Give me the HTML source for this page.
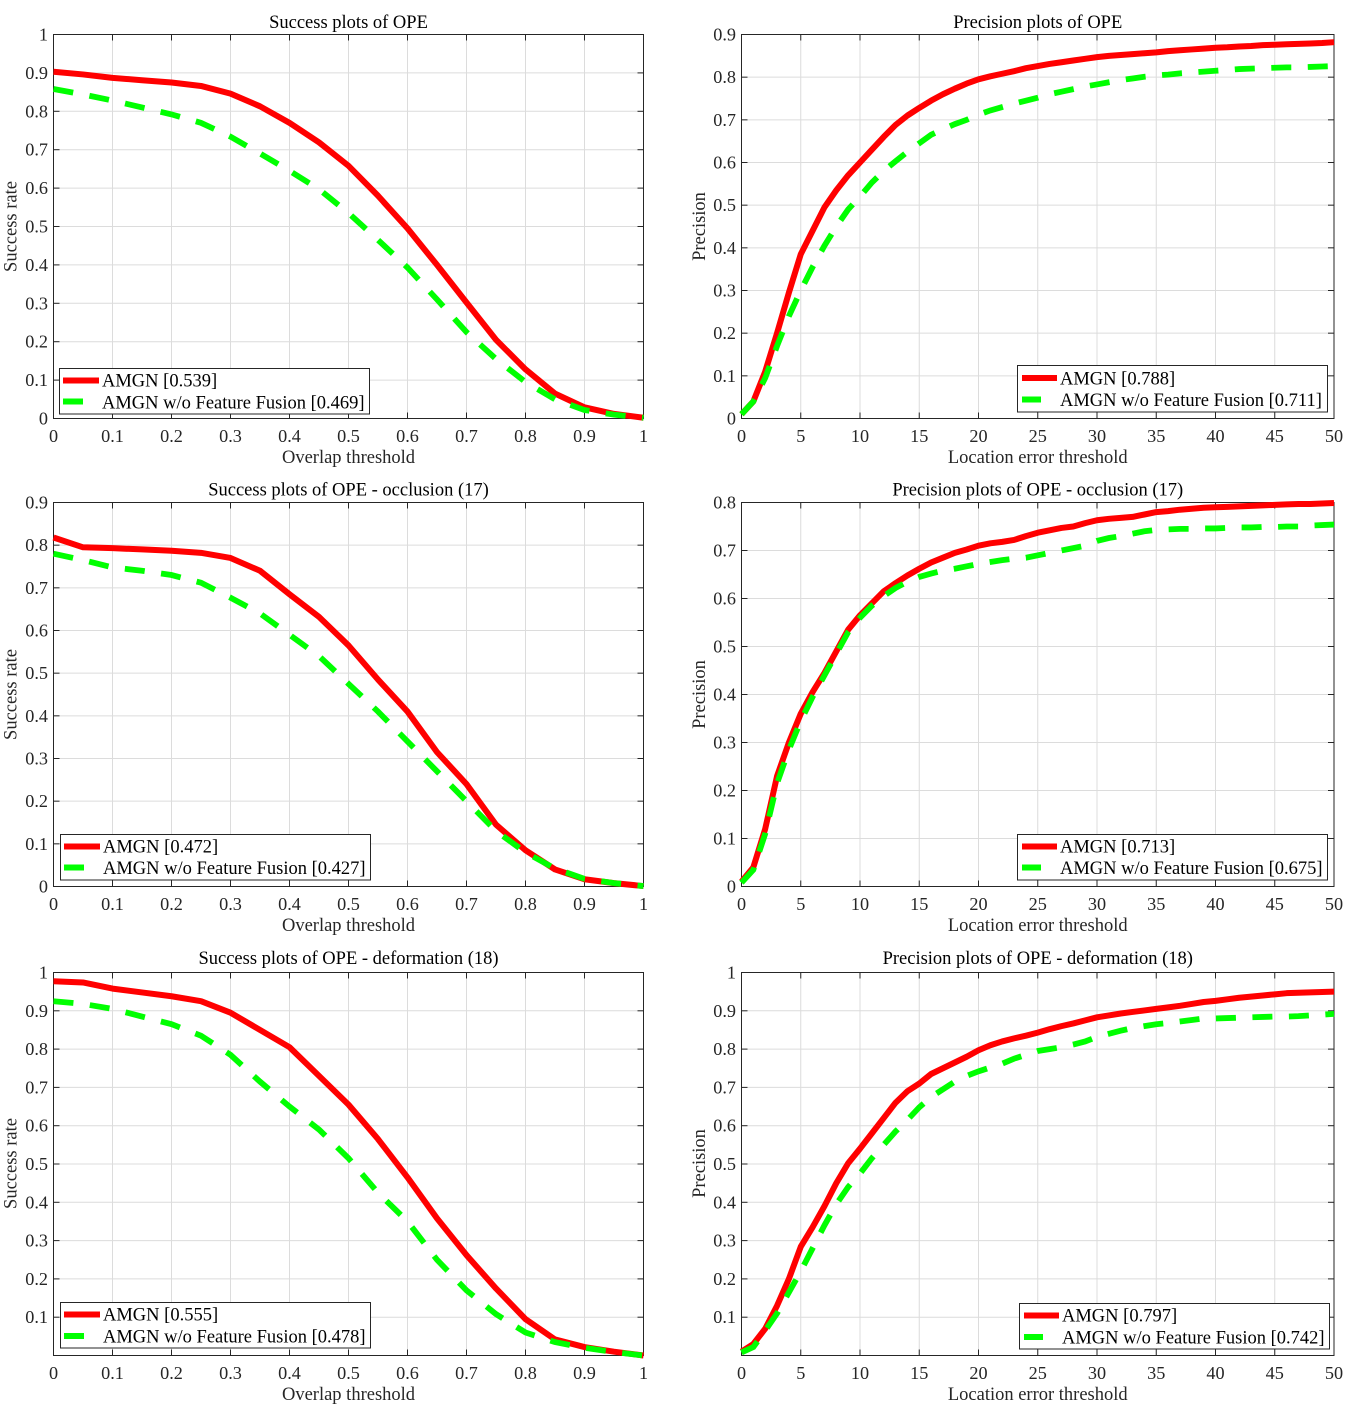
<!DOCTYPE html>
<html lang="en">
<head>
<meta charset="utf-8">
<title>Success and precision plots of OPE</title>
<style>
html,body{margin:0;padding:0;background:#fff;}
svg{display:block;}
text{font-family:"Liberation Serif",serif;font-size:18.5px;fill:#000;}
.tick-label{fill:#262626;font-size:18.2px;}
.axis-label{fill:#262626;text-anchor:middle;}
.plot-title{text-anchor:middle;}
.legend-text{fill:#000;}
</style>
</head>
<body>
<svg id="figure" xmlns="http://www.w3.org/2000/svg" width="1355" height="1411" viewBox="0 0 1355 1411">
  <rect width="1355" height="1411" fill="#fff"/>

  <g id="panel-0">
    <g class="plot-layer"></g>
    <text class="plot-title" x="348.5" y="28">Success plots of OPE</text>
    <text class="axis-label" x="348.5" y="463">Overlap threshold</text>
    <text class="axis-label" transform="translate(16.5 226.5) rotate(-90)">Success rate</text>
    <g>
      <rect x="59.5" y="368.5" width="310" height="45.5" fill="#fff" stroke="#262626"/>
      <line x1="63" x2="99" y1="380.5" y2="380.5" stroke="#f00" stroke-width="6"/>
      <line x1="63" x2="83" y1="401.5" y2="401.5" stroke="#0f0" stroke-width="6"/>
      <text class="legend-text" x="102" y="386.5">AMGN [0.539]</text>
      <text class="legend-text" x="102" y="408.5">AMGN w/o Feature Fusion [0.469]</text>
    </g>
  </g>

  <g id="panel-1">
    <g class="plot-layer"></g>
    <text class="plot-title" x="1037.75" y="28">Precision plots of OPE</text>
    <text class="axis-label" x="1037.75" y="463">Location error threshold</text>
    <text class="axis-label" transform="translate(705 226.5) rotate(-90)">Precision</text>
    <g>
      <rect x="1017.5" y="365.5" width="310" height="46.5" fill="#fff" stroke="#262626"/>
      <line x1="1022" x2="1057" y1="378" y2="378" stroke="#f00" stroke-width="6"/>
      <line x1="1022" x2="1041" y1="399.5" y2="399.5" stroke="#0f0" stroke-width="6"/>
      <text class="legend-text" x="1060" y="384.5">AMGN [0.788]</text>
      <text class="legend-text" x="1060" y="406">AMGN w/o Feature Fusion [0.711]</text>
    </g>
  </g>

  <g id="panel-2">
    <g class="plot-layer"></g>
    <text class="plot-title" x="348.5" y="495.5">Success plots of OPE - occlusion (17)</text>
    <text class="axis-label" x="348.5" y="931">Overlap threshold</text>
    <text class="axis-label" transform="translate(16.5 694.5) rotate(-90)">Success rate</text>
    <g>
      <rect x="60.5" y="834.5" width="310" height="45.5" fill="#fff" stroke="#262626"/>
      <line x1="64" x2="100" y1="846.5" y2="846.5" stroke="#f00" stroke-width="6"/>
      <line x1="64" x2="84" y1="867.5" y2="867.5" stroke="#0f0" stroke-width="6"/>
      <text class="legend-text" x="103" y="852.5">AMGN [0.472]</text>
      <text class="legend-text" x="103" y="874">AMGN w/o Feature Fusion [0.427]</text>
    </g>
  </g>

  <g id="panel-3">
    <g class="plot-layer"></g>
    <text class="plot-title" x="1037.75" y="495.5">Precision plots of OPE - occlusion (17)</text>
    <text class="axis-label" x="1037.75" y="931">Location error threshold</text>
    <text class="axis-label" transform="translate(705 694.5) rotate(-90)">Precision</text>
    <g>
      <rect x="1017.5" y="834.5" width="310" height="45.5" fill="#fff" stroke="#262626"/>
      <line x1="1022" x2="1057" y1="846.5" y2="846.5" stroke="#f00" stroke-width="6"/>
      <line x1="1022" x2="1041" y1="867.5" y2="867.5" stroke="#0f0" stroke-width="6"/>
      <text class="legend-text" x="1060" y="852.5">AMGN [0.713]</text>
      <text class="legend-text" x="1060" y="874">AMGN w/o Feature Fusion [0.675]</text>
    </g>
  </g>

  <g id="panel-4">
    <g class="plot-layer"></g>
    <text class="plot-title" x="348.5" y="964">Success plots of OPE - deformation (18)</text>
    <text class="axis-label" x="348.5" y="1400">Overlap threshold</text>
    <text class="axis-label" transform="translate(16.5 1163.5) rotate(-90)">Success rate</text>
    <g>
      <rect x="60.5" y="1302.5" width="310" height="45.5" fill="#fff" stroke="#262626"/>
      <line x1="64" x2="100" y1="1314.5" y2="1314.5" stroke="#f00" stroke-width="6"/>
      <line x1="64" x2="84" y1="1336" y2="1336" stroke="#0f0" stroke-width="6"/>
      <text class="legend-text" x="103" y="1320.5">AMGN [0.555]</text>
      <text class="legend-text" x="103" y="1342.5">AMGN w/o Feature Fusion [0.478]</text>
    </g>
  </g>

  <g id="panel-5">
    <g class="plot-layer"></g>
    <text class="plot-title" x="1037.75" y="964">Precision plots of OPE - deformation (18)</text>
    <text class="axis-label" x="1037.75" y="1400">Location error threshold</text>
    <text class="axis-label" transform="translate(705 1163.5) rotate(-90)">Precision</text>
    <g>
      <rect x="1019.5" y="1303.5" width="310" height="45.5" fill="#fff" stroke="#262626"/>
      <line x1="1024" x2="1059" y1="1315.5" y2="1315.5" stroke="#f00" stroke-width="6"/>
      <line x1="1024" x2="1043" y1="1337" y2="1337" stroke="#0f0" stroke-width="6"/>
      <text class="legend-text" x="1062" y="1321.5">AMGN [0.797]</text>
      <text class="legend-text" x="1062" y="1343.5">AMGN w/o Feature Fusion [0.742]</text>
    </g>
  </g>
</svg>

<script>
// ---------- thresholds (x categories) ----------
const overlapThresholds = [0,0.05,0.1,0.15,0.2,0.25,0.3,0.35,0.4,0.45,0.5,0.55,0.6,0.65,0.7,0.75,0.8,0.85,0.9,0.95,1];
const errorThresholds = [0,1,2,3,4,5,6,7,8,9,10,11,12,13,14,15,16,17,18,19,20,21,22,23,24,25,26,27,28,29,30,31,32,33,34,35,36,37,38,39,40,41,42,43,44,45,46,47,48,49,50];

// ---------- series values ----------
const successOverallAmgn = [.903,.896,.887,.881,.875,.866,.846,.813,.770,.719,.658,.580,.495,.400,.302,.205,.128,.065,.029,.012,.002];
const successOverallNoFusion = [.858,.844,.828,.810,.792,.770,.734,.690,.645,.597,.535,.465,.393,.310,.225,.155,.095,.050,.022,.010,.002];

const precisionOverallAmgn = [.010,.040,.110,.200,.295,.385,.440,.495,.535,.570,.600,.630,.660,.688,.710,.728,.745,.760,.773,.785,.795,.802,.808,.814,.821,.826,.831,.835,.839,.843,.847,.850,.852,.854,.856,.858,.861,.863,.865,.867,.869,.870,.872,.873,.875,.876,.877,.878,.879,.880,.882];
const precisionOverallNoFusion = [.010,.040,.095,.170,.240,.300,.355,.405,.450,.490,.520,.553,.580,.603,.625,.645,.665,.678,.690,.700,.712,.722,.730,.738,.745,.752,.760,.766,.772,.778,.783,.788,.793,.797,.801,.804,.806,.809,.811,.813,.815,.817,.819,.820,.821,.822,.823,.823,.824,.825,.826];

const successOcclusionAmgn = [.818,.795,.793,.790,.787,.782,.770,.740,.685,.632,.565,.485,.410,.315,.240,.145,.085,.040,.017,.008,.001];
const successOcclusionNoFusion = [.780,.765,.748,.740,.730,.712,.677,.640,.590,.540,.475,.410,.340,.270,.200,.130,.080,.042,.018,.008,.001];

const precisionOcclusionAmgn = [.010,.040,.120,.230,.300,.360,.405,.445,.490,.535,.565,.590,.615,.632,.648,.662,.675,.685,.695,.702,.710,.715,.718,.722,.730,.737,.742,.747,.750,.757,.763,.766,.768,.770,.775,.780,.782,.785,.787,.789,.790,.791,.792,.793,.794,.795,.796,.797,.797,.798,.799];
const precisionOcclusionNoFusion = [.008,.035,.110,.215,.285,.345,.395,.440,.485,.530,.560,.585,.605,.622,.635,.645,.652,.658,.662,.667,.672,.676,.680,.683,.685,.690,.695,.700,.705,.710,.720,.726,.730,.735,.740,.743,.744,.745,.745,.746,.746,.747,.748,.748,.749,.749,.750,.750,.752,.753,.754];

const successDeformationAmgn = [.977,.974,.958,.948,.938,.925,.895,.850,.805,.730,.655,.565,.465,.358,.262,.175,.095,.042,.022,.010,.000];
const successDeformationNoFusion = [.925,.918,.905,.885,.865,.835,.785,.715,.650,.590,.515,.425,.350,.250,.170,.108,.060,.035,.020,.009,.000];

const precisionDeformationAmgn = [.010,.030,.070,.130,.200,.284,.335,.390,.450,.502,.540,.580,.620,.660,.690,.710,.735,.750,.765,.780,.797,.810,.820,.828,.835,.843,.852,.860,.867,.875,.883,.888,.893,.897,.901,.905,.909,.913,.918,.923,.926,.930,.934,.937,.940,.943,.946,.947,.948,.949,.950];
const precisionDeformationNoFusion = [.008,.022,.065,.110,.165,.220,.280,.340,.395,.440,.475,.515,.550,.585,.615,.648,.675,.695,.715,.730,.742,.752,.762,.775,.785,.795,.800,.805,.812,.820,.832,.840,.848,.855,.860,.865,.868,.872,.876,.880,.880,.881,.882,.883,.884,.885,.885,.886,.888,.890,.892];

// ---------- tick labels ----------
const overlapTicks = [0,0.1,0.2,0.3,0.4,0.5,0.6,0.7,0.8,0.9,1];
const errorTicks = [0,5,10,15,20,25,30,35,40,45,50];
const yTicksTo1 = [0,0.1,0.2,0.3,0.4,0.5,0.6,0.7,0.8,0.9,1];
const yTicksTo09 = [0,0.1,0.2,0.3,0.4,0.5,0.6,0.7,0.8,0.9];
const yTicksTo08 = [0,0.1,0.2,0.3,0.4,0.5,0.6,0.7,0.8];
const yTicksTo1NoZero = [0.1,0.2,0.3,0.4,0.5,0.6,0.7,0.8,0.9,1];

const SVG_NS = 'http://www.w3.org/2000/svg';

function make(parent, tag, attrs) {
  const el = document.createElementNS(SVG_NS, tag);
  for (const k in attrs) el.setAttribute(k, attrs[k]);
  parent.appendChild(el);
  return el;
}

function drawPanel(p) {
  const layer = document.querySelector('#panel-' + p.index + ' .plot-layer');
  const sx = v => p.left + (v - p.xMin) / (p.xMax - p.xMin) * (p.right - p.left);
  const sy = v => p.bottom - (v - p.yMin) / (p.yMax - p.yMin) * (p.bottom - p.top);

  // gridlines
  p.xTicks.forEach(t => {
    if (t === p.xMin || t === p.xMax) return;
    const g = make(layer, 'line', {x1: sx(t), x2: sx(t), y1: p.top, y2: p.bottom, stroke: '#dcdcdc', 'stroke-width': 1});
    
    
  });
  p.yTicks.forEach(t => {
    if (t === p.yMin || t === p.yMax) return;
    const g = make(layer, 'line', {x1: p.left, x2: p.right, y1: sy(t), y2: sy(t), stroke: '#dcdcdc', 'stroke-width': 1});
    
    
  });

  // frame
  const frame = make(layer, 'rect', {x: p.left, y: p.top, width: p.right - p.left, height: p.bottom - p.top, fill: 'none', stroke: '#262626', 'stroke-width': 1});
  
  

  // ticks and labels
  p.xTicks.forEach(t => {
    const a = make(layer, 'line', {x1: sx(t), x2: sx(t), y1: p.bottom, y2: p.bottom - 6, stroke: '#262626'});
    
    
    const b = make(layer, 'line', {x1: sx(t), x2: sx(t), y1: p.top, y2: p.top + 6, stroke: '#262626'});
    
    
    const lab = make(layer, 'text', {class: 'tick-label', x: sx(t), y: p.bottom + 23.5, 'text-anchor': 'middle'});
    lab.textContent = String(t);
    
    
  });
  p.yTicks.forEach(t => {
    const a = make(layer, 'line', {x1: p.left, x2: p.left + 6, y1: sy(t), y2: sy(t), stroke: '#262626'});
    
    
    const b = make(layer, 'line', {x1: p.right, x2: p.right - 6, y1: sy(t), y2: sy(t), stroke: '#262626'});
    
    
    const lab = make(layer, 'text', {class: 'tick-label', x: p.left - 5.5, y: sy(t) + 6, 'text-anchor': 'end'});
    lab.textContent = String(t);
    
    
  });

  // series: solid red first, dashed green on top, not clipped to the axes box
  const pathFor = vals => vals.map((v, i) => (i ? 'L' : 'M') + sx(p.xs[i]).toFixed(2) + ' ' + sy(v).toFixed(2)).join('');
  const red = make(layer, 'path', {d: pathFor(p.amgn), fill: 'none', stroke: '#ff0000', 'stroke-width': 6, 'stroke-linejoin': 'round'});
  
  
  const green = make(layer, 'path', {d: pathFor(p.noFusion), fill: 'none', stroke: '#00ff00', 'stroke-width': 5.8, 'stroke-dasharray': '20 16.5'});
  
  
}

const LEFT = {left: 53.5, right: 643.5};
const RIGHT = {left: 741.5, right: 1334};
const ROW1 = {top: 34.5, bottom: 418.5};
const ROW2 = {top: 502.5, bottom: 886.5};
const ROW3 = {top: 972.5, bottom: 1355.5};

drawPanel({index: 0, ...LEFT, ...ROW1, xMin: 0, xMax: 1, yMin: 0, yMax: 1, xs: overlapThresholds, xTicks: overlapTicks, yTicks: yTicksTo1, amgn: successOverallAmgn, noFusion: successOverallNoFusion});
drawPanel({index: 1, ...RIGHT, ...ROW1, xMin: 0, xMax: 50, yMin: 0, yMax: 0.9, xs: errorThresholds, xTicks: errorTicks, yTicks: yTicksTo09, amgn: precisionOverallAmgn, noFusion: precisionOverallNoFusion});
drawPanel({index: 2, ...LEFT, ...ROW2, xMin: 0, xMax: 1, yMin: 0, yMax: 0.9, xs: overlapThresholds, xTicks: overlapTicks, yTicks: yTicksTo09, amgn: successOcclusionAmgn, noFusion: successOcclusionNoFusion});
drawPanel({index: 3, ...RIGHT, ...ROW2, xMin: 0, xMax: 50, yMin: 0, yMax: 0.8, xs: errorThresholds, xTicks: errorTicks, yTicks: yTicksTo08, amgn: precisionOcclusionAmgn, noFusion: precisionOcclusionNoFusion});
drawPanel({index: 4, ...LEFT, ...ROW3, xMin: 0, xMax: 1, yMin: 0, yMax: 1, xs: overlapThresholds, xTicks: overlapTicks, yTicks: yTicksTo1NoZero, amgn: successDeformationAmgn, noFusion: successDeformationNoFusion});
drawPanel({index: 5, ...RIGHT, ...ROW3, xMin: 0, xMax: 50, yMin: 0, yMax: 1, xs: errorThresholds, xTicks: errorTicks, yTicks: yTicksTo1NoZero, amgn: precisionDeformationAmgn, noFusion: precisionDeformationNoFusion});
</script>
</body>
</html>
